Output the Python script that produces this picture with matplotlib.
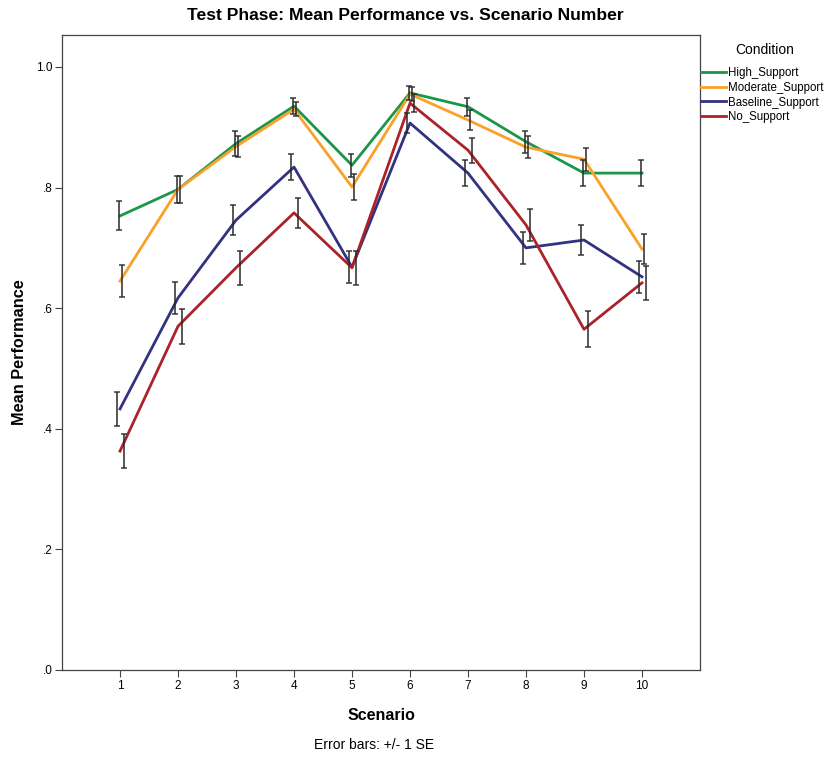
import matplotlib
matplotlib.use("Agg")
import matplotlib.pyplot as plt
import numpy as np

scenarios = [1, 2, 3, 4, 5, 6, 7, 8, 9, 10]
conditions = ["High_Support", "Moderate_Support", "Baseline_Support", "No_Support"]
high = [0.753, 0.797, 0.873, 0.935, 0.837, 0.957, 0.934, 0.876, 0.824, 0.824]
high_se = [0.024, 0.022, 0.020, 0.013, 0.019, 0.012, 0.015, 0.018, 0.022, 0.022]
moderate = [0.645, 0.797, 0.868, 0.930, 0.801, 0.955, 0.912, 0.867, 0.847, 0.698]
moderate_se = [0.026, 0.022, 0.018, 0.012, 0.021, 0.012, 0.016, 0.018, 0.019, 0.025]
baseline = [0.433, 0.617, 0.746, 0.834, 0.668, 0.907, 0.824, 0.700, 0.713, 0.652]
baseline_se = [0.028, 0.027, 0.025, 0.021, 0.026, 0.017, 0.021, 0.026, 0.025, 0.027]
nosupport = [0.363, 0.570, 0.667, 0.758, 0.667, 0.940, 0.862, 0.738, 0.565, 0.642]
nosupport_se = [0.028, 0.029, 0.028, 0.025, 0.028, 0.015, 0.021, 0.026, 0.030, 0.028]

series = [high, moderate, baseline, nosupport]
ses = [high_se, moderate_se, baseline_se, nosupport_se]
colors = ["#1b9648", "#f9a128", "#323281", "#ab2229"]
offsets = [-0.01, 0.03, -0.05, 0.07]

plt.rcParams['font.family'] = ['Liberation Sans', 'DejaVu Sans']

fig = plt.figure(figsize=(8.28, 7.59), dpi=100)
ax = fig.add_axes([62/828, 1 - 670/759, (700-62)/828, (670-35)/759])

x = np.array(scenarios, dtype=float)
for vals, se, c, off, name in zip(series, ses, colors, offsets, conditions):
    ax.plot(x, vals, color=c, lw=2, label=name, zorder=2)
    ax.errorbar(x + off, vals, yerr=se, fmt='none', ecolor='#2a2a2a', elinewidth=1.3,
                capsize=2, capthick=1.2, zorder=3, alpha=0.85)

ax.set_xlim(0, 11)
ax.set_ylim(0, 1.053)
ax.set_xticks(scenarios)
ax.set_xticklabels([str(s) for s in scenarios], fontsize=8.5)
ax.set_yticks([0, 0.2, 0.4, 0.6, 0.8, 1.0])
ax.set_yticklabels([".0", ".2", ".4", ".6", ".8", "1.0"], fontsize=8.5)
ax.tick_params(direction='out', length=5, width=0.8, color='#444444', pad=2)
for sp in ax.spines.values():
    sp.set_color('#444444')
    sp.set_linewidth(0.9)

ax.set_xlabel("Scenario", fontsize=11.5, fontweight='bold', labelpad=12)
ax.set_ylabel("Mean Performance", fontsize=11.7, fontweight='bold', labelpad=6)

fig.text(405/828, 1 - 15/759, "Test Phase: Mean Performance vs. Scenario Number",
         ha='center', va='center', fontsize=12.6, fontweight='bold')
fig.text(374/828, 1 - 745/759, "Error bars: +/- 1 SE", ha='center', va='center', fontsize=10)

fig.text(765/828, 1 - 50/759, "Condition", ha='center', va='center', fontsize=10)
leg = fig.legend(loc='upper left', bbox_to_anchor=(701/828, 1 - 67/759), frameon=False,
                 fontsize=8.3, handlelength=2.2,
                 handletextpad=0.1, labelspacing=0.24, borderaxespad=0, borderpad=0)

fig.savefig("out.png", dpi=100)
